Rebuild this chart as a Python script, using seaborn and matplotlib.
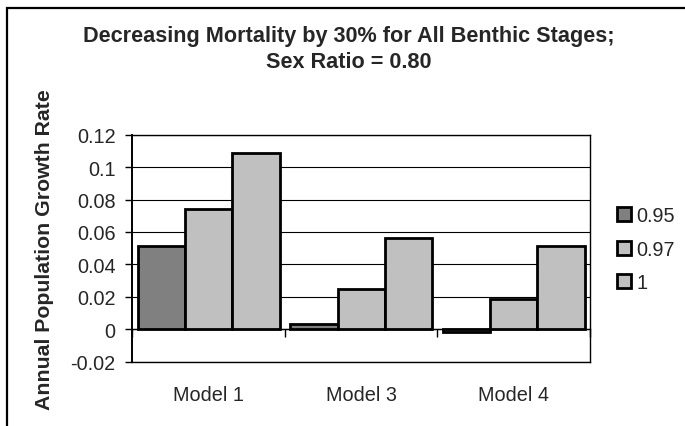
import matplotlib
matplotlib.use("Agg")
import matplotlib.pyplot as plt
import matplotlib.patches as mpatches
import numpy as np
import pandas as pd
import seaborn as sns

# ---- data ----
models = ["Model 1", "Model 3", "Model 4"]
ratios = ["0.95", "0.97", "1"]
vals_095 = [0.0514, 0.0032, -0.0017]
vals_097 = [0.0742, 0.0246, 0.0188]
vals_100 = [0.1088, 0.0563, 0.0514]
yticks = [-0.02, 0, 0.02, 0.04, 0.06, 0.08, 0.1, 0.12]
ytick_labels = ["-0.02", "0", "0.02", "0.04", "0.06", "0.08", "0.1", "0.12"]
title = "Decreasing Mortality by 30% for All Benthic Stages;\nSex Ratio = 0.80"
ylabel = "Annual Population Growth Rate"

df = pd.DataFrame({
    "model": models * 3,
    "ratio": [ratios[0]] * 3 + [ratios[1]] * 3 + [ratios[2]] * 3,
    "value": vals_095 + vals_097 + vals_100,
})

sns.set_style("white")
plt.rcParams["font.family"] = ["Liberation Sans", "DejaVu Sans"]

W, H = 685, 427
fig = plt.figure(figsize=(W / 100, H / 100), dpi=100)
ax = fig.add_axes([132.3 / W, 1 - 362.7 / H, (590 - 132.3) / W, (362.7 - 135.7) / H])

palette = {"0.95": "#808080", "0.97": "#C0C0C0", "1": "#C0C0C0"}
sns.barplot(data=df, x="model", y="value", hue="ratio", hue_order=ratios,
            order=models, palette=palette, edgecolor="black", linewidth=2,
            width=0.93, gap=0, ax=ax, zorder=3)

ax.set_ylim(-0.02, 0.12)
ax.set_xlim(-0.5, 2.5)
ax.set_yticks(yticks)
ax.set_yticklabels(ytick_labels, fontsize=14.3)
ax.yaxis.grid(True, color="black", linewidth=0.8)
ax.set_axisbelow(True)
ax.tick_params(axis="y", direction="out", length=5, width=1, color="black", left=True, pad=7)
ax.tick_params(axis="x", length=0, pad=17, labelsize=14.3)
ax.set_xlabel("")
ax.set_ylabel("")
for s in ax.spines.values():
    s.set_color("black")
    s.set_linewidth(1)
ax.spines["left"].set_linewidth(1.4)

# zero axis line with category separator ticks
sec = ax.secondary_xaxis(0.02 / 0.14)
sec.set_xticks([-0.5, 0.5, 1.5, 2.5])
sec.set_xticklabels([])
sec.tick_params(direction="out", length=6, width=1, color="black")
sec.spines["bottom"].set_linewidth(1)
sec.spines["bottom"].set_color("black")

# legend
handles, labels = ax.get_legend_handles_labels()
leg = ax.legend(handles, labels, loc="center left", bbox_to_anchor=(599 / W, 1 - 250 / H),
                bbox_transform=fig.transFigure, frameon=False, fontsize=14.3,
                handlelength=0.7, handleheight=0.7, handletextpad=0.3,
                labelspacing=0.72)
for p in leg.get_patches():
    p.set_linewidth(2)

fig.text(45 / W, 1 - 250 / H, ylabel, rotation=90, ha="center", va="center",
         fontsize=15.3, fontweight="bold")

fig.text(348.5 / W, 1 - 49.5 / H, title, ha="center", va="center",
         fontsize=15.6, fontweight="bold", linespacing=1.3)

# outer chart frame
fig.add_artist(mpatches.Rectangle((7 / W, -0.1), 1.2, (1 - 9 / H) + 0.1,
                                  transform=fig.transFigure, fill=False,
                                  edgecolor="black", linewidth=1.6))

fig.savefig("out.png", dpi=100)
